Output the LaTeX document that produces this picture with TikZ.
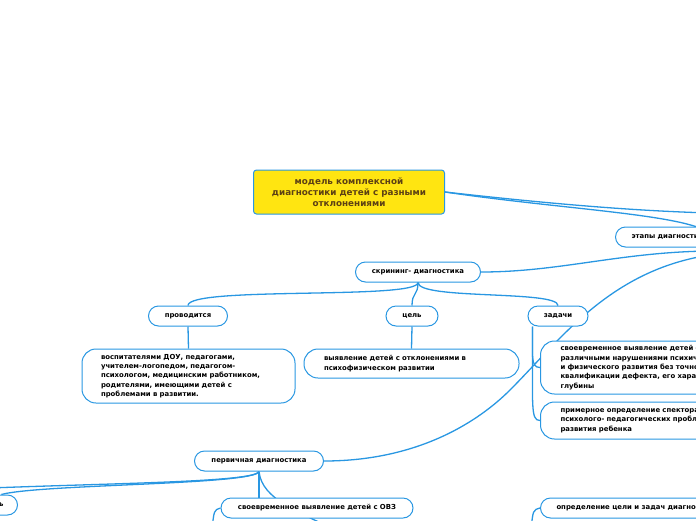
\documentclass[tikz,border=0pt]{standalone}
\usepackage{fontspec}
\setmainfont{DejaVu Sans}
\usetikzlibrary{backgrounds}
\definecolor{sinij}{RGB}{41,151,226}
\definecolor{zheltyj}{RGB}{255,229,17}
\definecolor{korich}{RGB}{92,64,20}
\tikzset{
  koren/.style={draw=sinij,fill=zheltyj,line width=1pt,rounded corners=3pt,
    minimum width=191pt,minimum height=44pt,align=center,text=korich,
    font=\bfseries\fontsize{8.8}{11}\selectfont},
  tema/.style={draw=sinij,fill=white,line width=1pt,rounded corners=10pt,
    minimum height=20pt,inner xsep=0pt,font=\bfseries\fontsize{6.9}{9.3}\selectfont},
  blok/.style={draw=sinij,fill=white,line width=1pt,rounded corners=14pt,
    align=left,inner xsep=19pt,inner ysep=3pt,font=\bfseries\fontsize{6.9}{9.3}\selectfont},
  svyaz/.style={draw=sinij,line width=1.3pt},
}

\begin{document}
\begin{tikzpicture}[x=1pt,y=-1pt]
  \useasboundingbox (0,0) rectangle (696,520);
  \clip (0,0) rectangle (696,520);
  % uzly
  \node[koren] (koren) at (349,192) {модель комплексной\\диагностики детей с разными\\отклонениями};
  \node[tema,anchor=west,inner xsep=16pt] (etapy) at (615,237) {этапы диагностики};
  \node[tema,minimum width=125pt] (skrining) at (418,272) {скрининг- диагностика};
  \node[tema,minimum width=79pt] (provod) at (188,316) {проводится};
  \node[tema,minimum width=52pt] (cel) at (412,316) {цель};
  \node[tema,minimum width=60pt] (zadachi) at (558,316) {задачи};
  \node[blok,text width=175pt,minimum height=54pt] (vospit) at (188.5,376)
    {воспитателями ДОУ, педагогами,\\ учителем-логопедом, педагогом-\\ психологом, медицинским работником,\\ родителями, имеющими детей с\\ проблемами в развитии.};
  \node[blok,text width=175pt,inner xsep=20pt,minimum height=29pt] (vyyavl) at (411.5,363.5)
    {выявление детей с отклонениями в\\ психофизическом развитии};
  \node[blok,anchor=west,text width=200pt,inner xsep=20pt,minimum height=53pt] (svoevr) at (540,367.5)
    {своевременное выявление детей с\\ различными нарушениями психического\\ и физического развития без точной\\ квалификации дефекта, его характера и\\ глубины};
  \node[blok,anchor=west,text width=200pt,inner xsep=20pt,minimum height=37pt] (primer) at (540,420.5)
    {примерное определение спектора\\ психолого- педагогических проблем\\ развития ребенка};
  \node[tema,minimum width=129pt] (pervich) at (259,461) {первичная диагностика};
  \node[tema,anchor=east,inner xsep=14pt] (lev) at (18,505) {ь};
  \node[tema,minimum width=192pt] (ovz) at (317,508) {своевременное выявление детей с ОВЗ};
  \node[tema,anchor=west,inner xsep=16pt] (opred) at (540,508) {определение цели и задач диагностики};
  % svobodnye koncy
  \coordinate (vyhod1) at (710,213);
  \coordinate (vyhod2) at (708,232);
  \coordinate (vyhodA) at (710,251);
  \coordinate (vyhodB) at (710,255);
  \coordinate (vyhodL) at (-10,488);
  \coordinate (vyhodN1) at (335,530);
  \coordinate (vyhodN2) at (212,530);
  \coordinate (vyhodN4) at (531,530);
  % svyazi
  \begin{scope}[on background layer]
    \clip (0,0) rectangle (696,520);
    \draw[svyaz] (koren.east) .. controls (560,205) and (640,211) .. (vyhod1);
    \draw[svyaz] (koren.east) .. controls (560,209) and (680,214) .. (vyhod2);
    \draw[svyaz] (skrining.east) .. controls (560,272) and (620,252) .. (vyhodA);
    \draw[svyaz] (pervich.east) .. controls (420,461) and (480,420) .. (510,390)
      .. controls (560,340) and (610,270) .. (vyhodB);
    \draw[svyaz] (skrining.south) .. controls (418,300) and (188,286) .. (provod.north);
    \draw[svyaz] (skrining.south) .. controls (418,296) and (412,292) .. (cel.north);
    \draw[svyaz] (skrining.south) .. controls (418,300) and (558,290) .. (zadachi.north);
    \draw[svyaz] (provod.south) -- (vospit.north);
    \draw[svyaz] (cel.south) -- (vyyavl.north);
    \draw[svyaz] ([xshift=5pt]zadachi.south west) .. controls (533,355) and (530,367.5) .. (svoevr.west);
    \draw[svyaz] ([xshift=5pt]zadachi.south west) .. controls (533,405) and (530,420.5) .. (primer.west);
    \draw[svyaz] (pervich.south) .. controls (255,482) and (120,483) .. (vyhodL);
    \draw[svyaz] (pervich.south) .. controls (255,485) and (40,484) .. (lev.north);
    \draw[svyaz] (pervich.south) -- ([xshift=-58pt]ovz.north);
    \draw[svyaz] (pervich.south) .. controls (262,500) and (300,512) .. (vyhodN1);
    \draw[svyaz] (ovz.west) .. controls (214,510) .. (vyhodN2);
    \draw[svyaz] (opred.west) .. controls (533,510) .. (vyhodN4);
  \end{scope}
\end{tikzpicture}
\end{document}
